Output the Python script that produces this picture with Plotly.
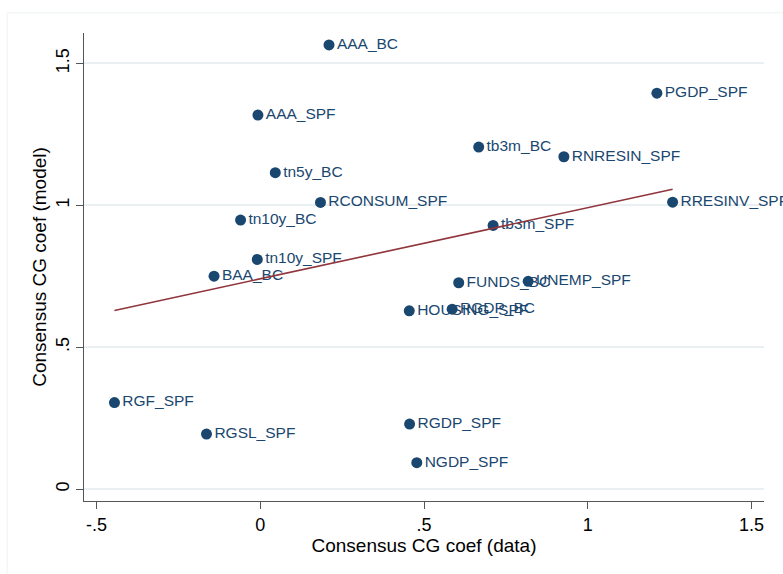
import numpy as np
import plotly.graph_objects as go

# Consensus CG coefficients: data (x) vs model (y)
series = ["AAA_BC", "AAA_SPF", "PGDP_SPF", "tb3m_BC", "RNRESIN_SPF", "tn5y_BC",
          "RCONSUM_SPF", "RRESINV_SPF", "tn10y_BC", "tb3m_SPF", "tn10y_SPF",
          "BAA_BC", "FUNDS_BC", "UNEMP_SPF", "HOUSING_SPF", "RGDP_BC",
          "RGF_SPF", "RGSL_SPF", "RGDP_SPF", "NGDP_SPF"]
cg_data = [0.210, -0.007, 1.211, 0.667, 0.927, 0.046,
           0.184, 1.259, -0.060, 0.711, -0.009,
           -0.141, 0.606, 0.818, 0.455, 0.586,
           -0.445, -0.164, 0.456, 0.478]
cg_model = [1.565, 1.318, 1.395, 1.205, 1.171, 1.115,
            1.010, 1.011, 0.948, 0.929, 0.809,
            0.750, 0.727, 0.732, 0.628, 0.634,
            0.305, 0.194, 0.229, 0.093]

x_ticks = [-0.5, 0, 0.5, 1, 1.5]
x_tick_text = ["-.5", "0", ".5", "1", "1.5"]
y_ticks = [0, 0.5, 1, 1.5]
y_tick_text = ["0", ".5", "1", "1.5"]

navy = "#1a476f"
maroon = "#90353b"

# Linear fit over the observed range of x
slope, intercept = np.polyfit(cg_data, cg_model, 1)
fit_x = [min(cg_data), max(cg_data)]
fit_y = [intercept + slope * v for v in fit_x]

fig = go.Figure()
fig.add_trace(go.Scatter(
    x=cg_data, y=cg_model, mode="markers+text", text=series,
    textposition="middle right",
    textfont=dict(family="Liberation Sans, Arial", size=15.5, color=navy),
    marker=dict(size=11, color=navy),
    hoverinfo="skip", showlegend=False, cliponaxis=False,
))
fig.add_trace(go.Scatter(
    x=fit_x, y=fit_y, mode="lines",
    line=dict(color=maroon, width=1.6),
    hoverinfo="skip", showlegend=False,
))

axis_font = dict(family="Liberation Sans, Arial", size=18, color="black")
fig.update_layout(
    width=783, height=574,
    margin=dict(l=84, r=19, t=33, b=73),
    paper_bgcolor="white", plot_bgcolor="white",
    font=dict(family="Liberation Sans, Arial"),
    xaxis=dict(
        range=[-0.538, 1.538], tickvals=x_ticks, ticktext=x_tick_text,
        ticks="outside", ticklen=7, tickwidth=1.3, tickcolor="#555",
        showline=True, linecolor="#555", linewidth=1.3,
        showgrid=False, zeroline=False, tickfont=axis_font,
        title=dict(text="Consensus CG coef (data)",
                   font=dict(family="Liberation Sans, Arial", size=19, color="black"),
                   standoff=4),
    ),
    yaxis=dict(
        range=[-0.042, 1.607], tickvals=y_ticks, ticktext=y_tick_text,
        tickangle=-90,
        ticks="outside", ticklen=7, tickwidth=1.3, tickcolor="#555",
        showline=True, linecolor="#555", linewidth=1.3,
        showgrid=True, gridcolor="#eaf0f2", gridwidth=1.5,
        zeroline=False, tickfont=axis_font,
        title=dict(text="Consensus CG coef (model)",
                   font=dict(family="Liberation Sans, Arial", size=19, color="black"),
                   standoff=1),
    ),
    shapes=[dict(type="rect", xref="paper", yref="paper",
                 x0=-0.113, x1=1.2, y0=-0.3, y1=1.043,
                 line=dict(color="#eef2f3", width=1), layer="below")],
)

fig.write_html("out.html")
